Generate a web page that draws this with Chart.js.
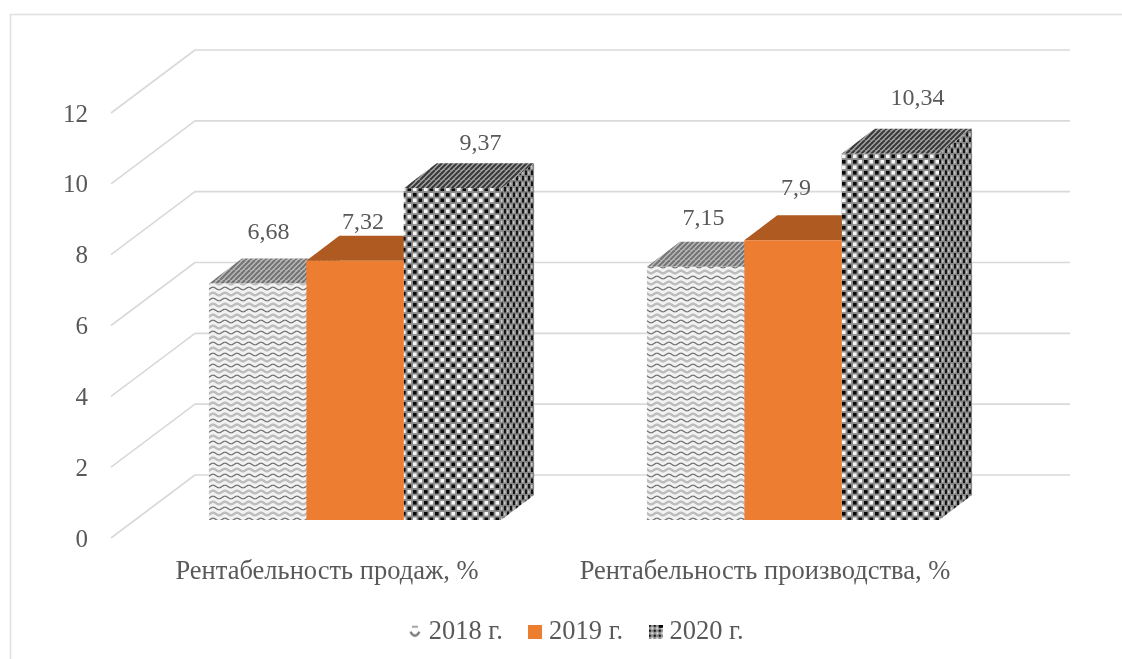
<!DOCTYPE html>
<html><head><meta charset="utf-8">
<style>html,body{margin:0;padding:0;background:#fff;overflow:hidden}#c{display:block}</style>
<script src="https://cdn.jsdelivr.net/npm/chart.js@4/dist/chart.umd.min.js"></script>
</head><body>
<canvas id="c" width="1122" height="659"></canvas>
<script>
const categories = ["Рентабельность продаж, %", "Рентабельность производства, %"];
const seriesNames = ["2018 г.", "2019 г.", "2020 г."];
const values2018 = [6.68, 7.15];
const values2019 = [7.32, 7.9];
const values2020 = [9.37, 10.34];
const valueLabels = [["6,68","7,15"],["7,32","7,9"],["9,37","10,34"]];

const FONT = '"Liberation Serif", serif';
const TEXT = '#595959', GRID = '#d9d9d9';
// 3D geometry in pixels
const BAR_DX = 33, BAR_DY = 25;
const FLOOR_DX = 84, FLOOR_DY = 63;
const FRONT_SHIFT_X = 25, FRONT_SHIFT_Y = 18;
const GRID_RIGHT_EXTRA = 58;
const LEGEND_SHIFT = 5;
// hand placement of value labels relative to front-face top centre
const LABEL_OFF = [[[11,-51],[8,-48]],[[8,-38],[3,-52]],[[28,-44],[27,-55]]];

function tile(w,h,draw){const c=document.createElement('canvas');c.width=w;c.height=h;draw(c.getContext('2d'),w,h);return c;}
const ctx0=document.createElement('canvas').getContext('2d');
const waveTile=tile(12,11,(g,w,h)=>{
  g.fillStyle='#f2f2f2';g.fillRect(0,0,w,h);
  const row=(y,col,lw)=>{g.strokeStyle=col;g.lineWidth=lw;g.beginPath();
    for(let x=-1;x<=w+1;x+=0.5){const yy=y+1.3*Math.sin(x/w*2*Math.PI);x===-1?g.moveTo(x,yy):g.lineTo(x,yy);}g.stroke();};
  row(2.5,'#6e6e6e',1.2);row(8,'#bdbdbd',2.4);
});
const checkTile=tile(11,11,(g,w,h)=>{
  g.fillStyle='#8c8c8c';g.fillRect(0,0,w,h);
  g.fillStyle='#0a0a0a';g.fillRect(0.5,0.5,3.6,3.6);g.fillRect(6,6,3.6,3.6);
  g.fillStyle='#f6f6f6';g.fillRect(6,0.5,3.6,3.6);g.fillRect(0.5,6,3.6,3.6);
});
const topTile=(a,b,lw)=>tile(10,10,(g,w,h)=>{
  g.fillStyle=a;g.fillRect(0,0,w,h);g.strokeStyle=b;g.lineWidth=lw;
  for(let i=-10;i<=20;i+=5){g.beginPath();g.moveTo(i,10);g.lineTo(i+10,0);g.stroke();}
});
const sideTile=tile(6,11,(g,w,h)=>{
  g.fillStyle='#858585';g.fillRect(0,0,w,h);
  g.fillStyle='#151515';g.fillRect(0,0,2,4.5);g.fillRect(3,5.5,2,4.5);
  g.fillStyle='#c4c4c4';g.fillRect(3,1,1.5,3);g.fillRect(0,6.5,1.5,3);
});
const wavePat=ctx0.createPattern(waveTile,'repeat');
const checkPat=ctx0.createPattern(checkTile,'repeat');
const topLight=ctx0.createPattern(topTile('#bcbcbc','#747474',2.2),'repeat');
const topDark=ctx0.createPattern(topTile('#a4a4a4','#383838',2),'repeat');
const sidePat=ctx0.createPattern(sideTile,'repeat');

const marker2018=tile(14,14,(g)=>{
  g.fillStyle='#fff';g.fillRect(0,0,14,14);
  g.strokeStyle='#7a7a7a';g.lineWidth=2.4;
  g.beginPath();g.moveTo(2.5,7);g.quadraticCurveTo(7,15,11.5,7);g.stroke();
  g.strokeStyle='#a8a8a8';g.lineWidth=2.2;g.beginPath();g.moveTo(4,2);g.lineTo(10,2);g.stroke();
});
const marker2019=tile(14,14,(g)=>{g.fillStyle='#ed7d31';g.fillRect(0,0,14,14);});
const marker2020=tile(14,14,(g)=>{g.fillStyle=g.createPattern(tile(5,5,(t)=>{t.fillStyle='#8c8c8c';t.fillRect(0,0,5,5);t.fillStyle='#111';t.fillRect(0,0,2,2);t.fillStyle='#eee';t.fillRect(2.5,2.5,2,2);}),'repeat');g.fillRect(0,0,14,14);g.fillStyle='#000';g.fillRect(10,0,4,3);});
const markers=[marker2018,marker2019,marker2020];
const topFaces=[topLight,'#ae5a21',topDark];
const sideFaces=[topLight,'#ae5a21',sidePat];

const scene={id:'scene',
  afterLayout(chart){chart.legend.left+=LEGEND_SHIFT;chart.legend.right+=LEGEND_SHIFT;},
  beforeDraw(chart){
    const g=chart.ctx;g.save();g.strokeStyle='#e0e0e0';g.lineWidth=1.5;
    g.beginPath();g.moveTo(10.5,659);g.lineTo(10.5,14.5);g.lineTo(1122,14.5);g.stroke();g.restore();
  },
  beforeDatasetsDraw(chart){
    const g=chart.ctx,y=chart.scales.y,ca=chart.chartArea;
    g.save();g.strokeStyle=GRID;g.lineWidth=1.6;g.lineJoin='round';
    const fx=ca.left-FRONT_SHIFT_X;
    y.ticks.forEach(t=>{
      const py=y.getPixelForValue(t.value)+FRONT_SHIFT_Y;
      g.beginPath();g.moveTo(fx,py);g.lineTo(fx+FLOOR_DX,py-FLOOR_DY);
      g.lineTo(ca.right+GRID_RIGHT_EXTRA,py-FLOOR_DY);g.stroke();
    });
    g.restore();
    chart.data.datasets.forEach((ds,i)=>{
      chart.getDatasetMeta(i).data.forEach(b=>{
        const l=b.x-b.width/2,r=b.x+b.width/2,t=b.y,bt=b.base;
        g.save();
        g.beginPath();g.moveTo(r,t);g.lineTo(r+BAR_DX,t-BAR_DY);g.lineTo(r+BAR_DX,bt-BAR_DY);g.lineTo(r,bt);g.closePath();
        g.fillStyle=sideFaces[i];g.fill();
        g.beginPath();g.moveTo(l,t);g.lineTo(l+BAR_DX,t-BAR_DY);g.lineTo(r+BAR_DX,t-BAR_DY);g.lineTo(r,t);g.closePath();
        g.fillStyle=topFaces[i];g.fill();
        g.restore();
      });
    });
  },
  afterDatasetsDraw(chart){
    const g=chart.ctx;g.save();g.fillStyle=TEXT;g.font='24px '+FONT;g.textAlign='center';g.textBaseline='middle';
    chart.data.datasets.forEach((ds,i)=>{
      chart.getDatasetMeta(i).data.forEach((b,j)=>{
        g.fillText(valueLabels[i][j],b.x+LABEL_OFF[i][j][0],b.y+LABEL_OFF[i][j][1]);
      });
    });
    g.restore();
  }
};

new Chart(document.getElementById('c'),{
  type:'bar',
  data:{labels:categories,datasets:[
    {label:seriesNames[0],data:values2018,backgroundColor:wavePat},
    {label:seriesNames[1],data:values2019,backgroundColor:'#ed7d31'},
    {label:seriesNames[2],data:values2020,backgroundColor:checkPat}
  ]},
  options:{
    responsive:false,animation:false,
    datasets:{bar:{barPercentage:1,categoryPercentage:0.667,borderWidth:0}},
    layout:{padding:{left:0,right:110,top:95,bottom:4}},
    scales:{
      x:{grid:{display:false},border:{display:false},
        afterFit(s){s.height=66.5;},
        ticks:{color:TEXT,font:{family:FONT,size:26.5},padding:28,labelOffset:-28,maxRotation:0,autoSkip:false}},
      y:{min:0,max:12,grid:{display:false},border:{display:false},
        afterFit(s){s.width=136;},
        ticks:{color:TEXT,font:{family:FONT,size:25},padding:40,labelOffset:20,stepSize:2}}
    },
    plugins:{
      tooltip:{enabled:false},
      legend:{position:'bottom',fullSize:false,
        labels:{color:TEXT,font:{family:FONT,size:26.5},usePointStyle:true,boxWidth:14,boxHeight:14,pointStyleWidth:1,padding:32,
          generateLabels(chart){
            return Chart.defaults.plugins.legend.labels.generateLabels(chart).map((it,i)=>Object.assign(it,{pointStyle:markers[i],fontColor:TEXT}));
          }}}
    }
  },
  plugins:[scene]
});
</script>
</body></html>
